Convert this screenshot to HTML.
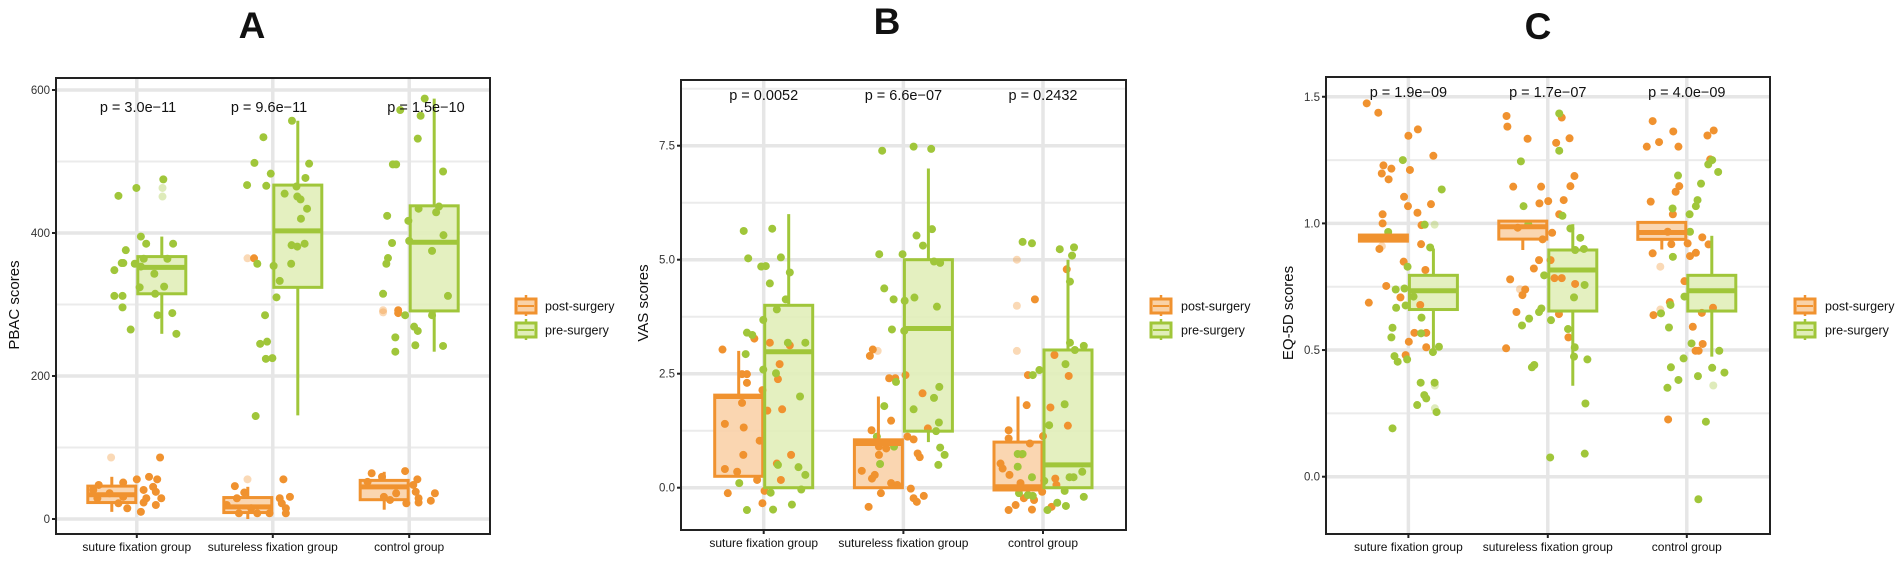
<!DOCTYPE html>
<html><head><meta charset="utf-8">
<style>
html,body{margin:0;padding:0;background:#fff;}
svg{display:block;font-family:"Liberation Sans",sans-serif;}
</style></head>
<body>
<svg id="fig" width="1901" height="562" viewBox="0 0 1901 562" xmlns="http://www.w3.org/2000/svg"></svg>
<script>
// ---------- shared ----------
const groupNames = ["suture fixation group","sutureless fixation group","control group"];
const seriesNames = ["post-surgery","pre-surgery"];

// ---------- Panel A (PBAC) ----------
const pValuesA = ["p = 3.0e\u221211","p = 9.6e\u221211","p = 1.5e\u221210"];
const ticksA = [0,200,400,600];
const tickLabelsA = ["0","200","400","600"];
const minorA = [100,300,500];
const postBoxA = [[10,23,34,46,59],[0,9,17,30,45],[13,27,45,54,66]];
const preBoxA = [[259,315,352,367,395],[145,324,403,467,557],[234,291,387,438,588]];
const postPtsA = [
 [[86,0.171],[55.5,0],[59,0.09],[55.5,0.15],[51,-0.1],[47.6,-0.28],[45,0.12],[40.6,0.05],[38,0.14],[29,0.18],[29,0.07],[23,0.05],[19.6,0.14],[10,0.03],[15,-0.07],[29,-0.29],[36,-0.2],[31,-0.1],[40.6,-0.32],[22,-0.135]],
 [[364.6,-0.138],[55.5,0.078],[46,-0.279],[37,-0.21],[29,-0.264],[19.6,-0.339],[29,0.051],[31,0.126],[22,0.066],[8,0.096],[8,-0.024],[8,-0.114],[8,-0.249],[15,-0.159],[15,0.096]],
 [[292,-0.081],[288,-0.081],[67,-0.03],[55.5,0.06],[64,-0.276],[59,-0.2],[52,-0.306],[47.6,0.03],[38,0.048],[36,0.189],[29,0.069],[25.6,0.159],[23,0.069],[22,-0.021],[26.6,-0.141],[31,-0.186],[36,-0.096]]
];
const prePtsA = [
 [[452,-0.135],[463,-0.003],[475,0.195],[395,0.03],[385,0.069],[385,0.267],[376,-0.081],[358,-0.111],[348,-0.165],[358,-0.099],[357,-0.015],[364,0.051],[353,0.03],[343,0.129],[364,0.225],[312,-0.165],[312,-0.105],[296,-0.105],[325,0.201],[315,0.135],[324,0.021],[265,-0.045],[285,0.153],[288,0.261],[259,0.291]],
 [[557,0.141],[534,-0.069],[498,-0.135],[497,0.267],[483,-0.015],[477,0.24],[467,-0.189],[466,-0.048],[465,0.174],[455,0.087],[451,0.18],[447,0.204],[434,0.252],[420,0.207],[383,0.138],[381,0.18],[385,0.234],[357,0.135],[357,-0.114],[354,0.006],[333,0.051],[310,0.027],[285,-0.057],[248,-0.042],[245,-0.093],[224,-0.051],[225,-0.003],[144,-0.126]],
 [[588,0.114],[572,-0.066],[564,0.084],[532,0.063],[496,-0.12],[496,-0.096],[486,0.249],[434,0.069],[429,0.198],[437,0.219],[424,-0.162],[417,-0.006],[397,0.252],[386,-0.126],[389,0],[375,0.168],[365,-0.156],[357,-0.168],[315,-0.192],[312,0.285],[285,-0.03],[285,0.168],[269,0.036],[263,0.063],[254,-0.102],[243,0.045],[242,0.249],[234,-0.102]]
];
const fadedA = [[0,0,86,-0.189],[0,1,463,0.189],[0,1,451,0.189],[1,0,364.6,-0.186],[1,0,55.5,-0.186],[2,0,292,-0.192],[2,0,289,-0.192]];

// ---------- Panel B (VAS) ----------
const pValuesB = ["p = 0.0052","p = 6.6e\u221207","p = 0.2432"];
const ticksB = [0,2.5,5,7.5];
const tickLabelsB = ["0.0","2.5","5.0","7.5"];
const minorB = [1.25,3.75,6.25,8.75];
const postBoxB = [[0.25,0.25,2.0,2.03,3.0],[0,0,0.97,1.05,2.0],[-0.05,-0.05,0.02,1.0,2.0]];
const preBoxB = [[0,0,2.98,4.0,6.0],[1.0,1.24,3.49,5.0,7.0],[0,0,0.5,3.02,5.0]];
const postPtsB = [
 [[3.03,-0.295],[3.27,-0.067],[2.49,-0.155],[2.49,-0.12],[2.3,-0.12],[2.14,-0.009],[1.86,-0.155],[1.4,-0.278],[1.32,-0.143],[1.03,-0.029],[0.72,-0.146],[0.41,-0.278],[0.35,-0.19],[0.17,-0.047],[-0.12,-0.257],[-0.07,0.006],[-0.34,-0.009],[3.18,0.044],[3.12,0.187],[2.71,0.114],[2.38,0.102],[1.69,0.026],[1.72,0.132],[0.72,0.196],[0.53,0.094],[0.17,0.123]],
 [[3.03,-0.219],[2.89,-0.24],[2.4,-0.102],[2.4,-0.058],[2.47,0.015],[2.07,0.137],[1.26,-0.228],[1.47,-0.088],[1.12,0.029],[1.06,0.073],[0.9,-0.175],[0.86,-0.123],[0.72,-0.175],[0.75,0.102],[0.67,0.117],[0.37,-0.298],[0.28,-0.205],[0.2,-0.225],[0.1,-0.088],[0.06,-0.044],[-0.12,-0.161],[-0.02,0.053],[-0.23,0.073],[-0.31,0.096],[-0.18,0.146],[-0.42,-0.249],[1.3,0.175]],
 [[4.79,0.17],[4.13,-0.058],[2.91,0.082],[2.45,0.184],[2.47,-0.108],[1.81,-0.117],[1.76,0.053],[1.36,0.178],[1.26,-0.246],[1.08,-0.246],[1.13,0],[0.97,-0.094],[0.73,-0.152],[0.53,-0.304],[0.42,-0.289],[0.28,-0.24],[0.1,-0.161],[-0.09,-0.006],[0.2,0.088],[0.06,0.096],[-0.23,-0.137],[-0.27,-0.064],[-0.38,-0.196],[-0.49,-0.246],[-0.48,-0.079],[-0.42,0.061]]
];
const prePtsB = [
 [[5.63,-0.143],[5.68,0.061],[5.03,-0.111],[5.05,0.123],[4.85,-0.018],[4.86,0.015],[4.72,0.187],[4.48,0.044],[4.13,0.158],[3.91,0.094],[3.68,-0.003],[3.4,-0.12],[3.35,-0.082],[3.18,0.173],[3.18,0.298],[2.93,-0.129],[2.59,-0.003],[2.51,0.088],[2.0,0.26],[0.5,0.102],[0.45,0.249],[0.28,0.298],[0.1,-0.175],[-0.11,0.05],[-0.04,0.269],[-0.37,0.202],[-0.48,0.067],[-0.49,-0.12]],
 [[7.39,-0.152],[7.48,0.073],[7.43,0.199],[5.53,0.094],[5.67,0.205],[5.31,0.14],[5.12,-0.173],[5.12,-0.006],[4.96,0.219],[4.93,0.263],[4.37,-0.137],[4.13,-0.07],[4.1,0.009],[4.17,0.079],[3.97,0.24],[3.47,-0.082],[3.44,0.006],[2.32,-0.053],[2.21,0.257],[1.97,0.219],[1.79,-0.137],[1.72,0.073],[1.43,0.254],[1.12,-0.19],[1.24,0.234],[0.88,0.263],[0.9,-0.067],[0.72,0.295],[0.52,-0.167],[0.5,0.25]],
 [[5.39,-0.146],[5.36,-0.079],[5.23,0.12],[5.27,0.222],[5.09,0.208],[4.52,0.193],[3.18,0.193],[3.11,0.292],[3.02,0.228],[2.71,0.161],[2.58,-0.026],[2.47,-0.073],[1.83,0.155],[1.37,0.044],[0.74,-0.181],[0.74,-0.146],[0.46,-0.181],[0.23,-0.079],[0.15,0.009],[0.23,0.19],[0.23,0.219],[0.35,0.281],[-0.12,-0.172],[-0.18,-0.073],[-0.07,0.155],[-0.2,0.292],[-0.33,0.102],[-0.4,0.164],[-0.49,0.032],[-0.16,-0.108]]
];
const fadedB = [[1,0,3.0,-0.184],[2,0,5.0,-0.187],[2,0,3.99,-0.187],[2,0,3.0,-0.187]];

// ---------- Panel C (EQ-5D) ----------
const pValuesC = ["p = 1.9e\u221209","p = 1.7e\u221207","p = 4.0e\u221209"];
const ticksC = [0,0.5,1,1.5];
const tickLabelsC = ["0.0","0.5","1.0","1.5"];
const minorC = [0.25,0.75,1.25];
const postBoxC = [[0.93,0.93,0.943,0.954,0.954],[0.895,0.938,0.987,1.009,1.009],[0.897,0.937,0.964,1.004,1.004]];
const preBoxC = [[0.493,0.66,0.734,0.795,0.901],[0.359,0.654,0.816,0.895,0.997],[0.474,0.654,0.734,0.795,0.951]];
const postPtsC = [
 [[1.474,-0.299],[1.437,-0.216],[1.371,0.068],[1.346,0],[1.267,0.179],[1.229,-0.179],[1.216,-0.122],[1.197,-0.191],[1.211,0.011],[1.174,-0.142],[1.105,-0.031],[1.068,-0.003],[1.076,0.162],[1.042,0.065],[1.036,-0.185],[1.0,-0.185],[0.993,0.094],[0.899,-0.208],[0.918,0.091],[0.849,-0.034],[0.816,0.122],[0.753,-0.159],[0.687,-0.284],[0.708,-0.057],[0.678,0.085],[0.568,0.043],[0.568,0.128],[0.533,0.003],[0.511,0.128],[0.48,-0.02]],
 [[1.424,-0.296],[1.382,-0.29],[1.334,-0.145],[1.418,0.1],[1.318,0.06],[1.336,0.156],[1.187,0.191],[1.145,-0.248],[1.145,-0.048],[1.147,0.162],[1.079,-0.06],[1.088,0.003],[1.092,0.114],[1.036,0.082],[0.983,-0.216],[0.963,0.031],[0.937,-0.037],[0.855,-0.063],[0.855,0.02],[0.822,-0.1],[0.779,-0.27],[0.784,0.048],[0.784,0.1],[0.761,0.196],[0.739,-0.162],[0.717,-0.182],[0.65,-0.225],[0.642,0.08],[0.55,0.148],[0.507,-0.299]],
 [[1.404,-0.245],[1.321,-0.199],[1.303,-0.287],[1.363,-0.097],[1.303,-0.06],[1.347,0.148],[1.367,0.193],[1.253,0.168],[1.147,-0.054],[1.125,-0.08],[1.086,-0.259],[1.036,-0.1],[0.967,-0.137],[0.945,0.111],[0.917,0.156],[0.918,-0.111],[0.921,0.006],[0.882,-0.245],[0.871,0.023],[0.884,0.065],[0.772,-0.017],[0.689,-0.122],[0.638,-0.239],[0.647,0.108],[0.667,0.188],[0.592,0.043],[0.524,0.114],[0.497,0.063],[0.497,0.085],[0.226,-0.134]]
];
const prePtsC = [
 [[1.25,-0.04],[1.134,0.239],[0.966,-0.145],[0.995,0.117],[0.829,-0.006],[0.739,-0.091],[0.743,-0.028],[0.711,0.037],[0.667,-0.088],[0.676,-0.02],[0.628,0.094],[0.588,-0.114],[0.55,-0.122],[0.566,0.091],[0.513,0.219],[0.492,0.176],[0.476,-0.1],[0.454,-0.077],[0.463,-0.009],[0.371,0.088],[0.371,0.188],[0.322,0.114],[0.309,0.128],[0.283,0.063],[0.255,0.202],[0.191,-0.114],[0.905,0.156]],
 [[1.434,0.082],[1.287,0.082],[1.245,-0.193],[1.068,-0.174],[0.997,-0.14],[1.03,0.105],[0.98,0.162],[0.943,0.233],[0.895,0.196],[0.899,0.259],[0.795,-0.026],[0.708,0.188],[0.757,0.264],[0.664,-0.046],[0.65,-0.063],[0.624,-0.134],[0.597,-0.185],[0.618,0.023],[0.583,0.145],[0.511,0.193],[0.474,0.188],[0.463,0.284],[0.441,-0.097],[0.432,-0.114],[0.289,0.27],[0.076,0.017],[0.091,0.265]],
 [[1.189,-0.063],[1.157,0.102],[1.203,0.225],[1.25,0.182],[1.233,0.154],[1.092,0.077],[1.068,0.065],[1.059,-0.102],[1.036,0.02],[0.967,0.023],[0.868,-0.1],[0.711,-0.017],[0.678,-0.117],[0.645,-0.185],[0.589,-0.128],[0.526,0.034],[0.497,0.233],[0.467,-0.023],[0.432,-0.114],[0.43,0.182],[0.411,0.27],[0.397,0.08],[0.382,-0.06],[0.351,-0.139],[0.217,0.137],[-0.089,0.083]]
];
const fadedC = [[0,0,0.91,-0.19],[0,1,0.995,0.188],[0,1,0.36,0.19],[0,1,0.27,0.19],[1,0,0.74,-0.2],[2,0,0.829,-0.19],[2,0,0.66,-0.19],[2,1,0.36,0.19]];

// ---------- drawing ----------
const NS = "http://www.w3.org/2000/svg";
const svg = document.getElementById("fig");
const ORANGE = "#F0922F", GREEN = "#A0C63A";
const FILLS = ["#F9D2A8", "#E1EEB9"];
const COLORS = [ORANGE, GREEN];
function mk(tag, attrs, parent){
  const e = document.createElementNS(NS, tag);
  for (const k in attrs) e.setAttribute(k, attrs[k]);
  (parent || svg).appendChild(e);
  return e;
}

const panels = [
 {key:"a", title:"A", titleX:252, titleY:38, left:56, right:490, top:78, bottom:534, y0:519, ppu:0.715, cats:[136.8,272.8,409.2], pvx:[138,269,426], pvy:112,
  yTitle:"PBAC  scores", yTitleX:19, yTitleY:305, legX:515, legTextX:545,
  ticks:ticksA, tickLabels:tickLabelsA, minor:minorA, pvals:pValuesA, postBox:postBoxA, preBox:preBoxA, postPts:postPtsA, prePts:prePtsA, faded:fadedA},
 {key:"b", title:"B", titleX:887, titleY:34, left:681, right:1126, top:80, bottom:530, y0:487.7, ppu:45.6, cats:[763.7,903.4,1043], pvx:[763.7,903.4,1043], pvy:100,
  yTitle:"VAS  scores", yTitleX:648, yTitleY:303, legX:1150, legTextX:1181,
  ticks:ticksB, tickLabels:tickLabelsB, minor:minorB, pvals:pValuesB, postBox:postBoxB, preBox:preBoxB, postPts:postPtsB, prePts:prePtsB, faded:fadedB},
 {key:"c", title:"C", titleX:1538, titleY:39, left:1326, right:1770, top:77, bottom:534, y0:476.7, ppu:253.3, cats:[1408.4,1547.8,1686.8], pvx:[1408.4,1547.8,1686.8], pvy:97,
  yTitle:"EQ-5D scores", yTitleX:1293, yTitleY:313, legX:1794, legTextX:1825,
  ticks:ticksC, tickLabels:tickLabelsC, minor:minorC, pvals:pValuesC, postBox:postBoxC, preBox:preBoxC, postPts:postPtsC, prePts:prePtsC, faded:fadedC}
];

panels.forEach(P => {
  const g = mk("g", {});
  
  
  const yS = v => P.y0 - v * P.ppu;
  const spacing = P.cats[1] - P.cats[0];
  const xJ = (ci, j) => P.cats[ci] + j * spacing;

  const t = mk("text", {x:P.titleX, y:P.titleY, "text-anchor":"middle", "font-size":37, "font-weight":"bold", fill:"#111"}, g);
  t.textContent = P.title;
  
  

  // clip
  const cp = mk("clipPath", {id:"clip-" + P.key}, g);
  mk("rect", {x:P.left, y:P.top, width:P.right-P.left, height:P.bottom-P.top}, cp);
  const plot = mk("g", {"clip-path":"url(#clip-" + P.key + ")"}, g);
  
  

  P.minor.forEach(v => {
    const l = mk("line", {x1:P.left, x2:P.right, y1:yS(v), y2:yS(v), stroke:"#EBEBEB", "stroke-width":2}, plot);
    
    
  });
  P.ticks.forEach(v => {
    const l = mk("line", {x1:P.left, x2:P.right, y1:yS(v), y2:yS(v), stroke:"#E6E6E6", "stroke-width":3.5}, plot);
    
    
  });
  P.cats.forEach(cx => {
    const l = mk("line", {x1:cx, x2:cx, y1:P.top, y2:P.bottom, stroke:"#E6E6E6", "stroke-width":3.5}, plot);
    
    
  });

  const boxes = [P.postBox, P.preBox];
  const pts = [P.postPts, P.prePts];
  const bw = 48;
  // box fills
  for (let ci = 0; ci < 3; ci++) for (let s = 0; s < 2; s++) {
    const b = boxes[s][ci];
    const x0 = s === 0 ? P.cats[ci] - bw - 1 : P.cats[ci] + 1;
    const r = mk("rect", {x:x0, y:yS(b[3]), width:bw, height:Math.max(1, yS(b[1]) - yS(b[3])), fill:FILLS[s], "fill-opacity":0.9}, plot);
    
    
  }
  // faded outliers
  P.faded.forEach(f => {
    const c = mk("circle", {cx:xJ(f[0], f[3]), cy:yS(f[2]), r:4, fill:COLORS[f[1]], "fill-opacity":0.35}, plot);
    
    
  });
  // points
  for (let s = 0; s < 2; s++) for (let ci = 0; ci < 3; ci++) {
    pts[s][ci].forEach(p => {
      const c = mk("circle", {cx:xJ(ci, p[1]), cy:yS(p[0]), r:4, fill:COLORS[s]}, plot);
      
      
    });
  }
  // box outlines, whiskers, medians
  for (let ci = 0; ci < 3; ci++) for (let s = 0; s < 2; s++) {
    const b = boxes[s][ci];
    const x0 = s === 0 ? P.cats[ci] - bw - 1 : P.cats[ci] + 1;
    const xc = x0 + bw / 2;
    const bg = mk("g", {stroke:COLORS[s], fill:"none"}, plot);
    
    
    mk("line", {x1:xc, x2:xc, y1:yS(b[3]), y2:yS(b[4]), "stroke-width":3}, bg);
    mk("line", {x1:xc, x2:xc, y1:yS(b[1]), y2:yS(b[0]), "stroke-width":3}, bg);
    mk("rect", {x:x0, y:yS(b[3]), width:bw, height:Math.max(1, yS(b[1]) - yS(b[3])), "stroke-width":3}, bg);
    mk("line", {x1:x0, x2:x0 + bw, y1:yS(b[2]), y2:yS(b[2]), "stroke-width":5}, bg);
  }

  // border
  const br = mk("rect", {x:P.left, y:P.top, width:P.right-P.left, height:P.bottom-P.top, fill:"none", stroke:"#222", "stroke-width":2}, g);
  
  

  // y ticks
  P.ticks.forEach((v, i) => {
    const tk = mk("line", {x1:P.left - 4, x2:P.left, y1:yS(v), y2:yS(v), stroke:"#222", "stroke-width":2}, g);
    
    
    const tl = mk("text", {x:P.left - 6, y:yS(v) + 4, "text-anchor":"end", "font-size":11.5, fill:"#333"}, g);
    tl.textContent = P.tickLabels[i];
    
    
  });
  // x ticks + labels
  P.cats.forEach((cx, i) => {
    const tk = mk("line", {x1:cx, x2:cx, y1:P.bottom, y2:P.bottom + 4, stroke:"#222", "stroke-width":2}, g);
    
    
    const tl = mk("text", {x:cx, y:P.bottom + 17, "text-anchor":"middle", "font-size":12, fill:"#111"}, g);
    tl.textContent = groupNames[i];
    
    
    const pv = mk("text", {x:P.pvx[i], y:P.pvy, "text-anchor":"middle", "font-size":14.5, fill:"#111"}, g);
    pv.textContent = P.pvals[i];
    
    
  });
  // y title
  const yt = mk("text", {x:P.yTitleX, y:P.yTitleY, "text-anchor":"middle", "font-size":15, fill:"#111", transform:"rotate(-90 " + P.yTitleX + " " + P.yTitleY + ")"}, g);
  yt.textContent = P.yTitle;
  
  

  // legend
  const lg = mk("g", {}, g);
  
  
  [297, 321].forEach((ky, s) => {
    const e = mk("g", {}, lg);
    
    
    mk("line", {x1:P.legX + 11, x2:P.legX + 11, y1:ky - 2, y2:ky + 19, stroke:COLORS[s], "stroke-width":2.5}, e);
    mk("rect", {x:P.legX + 1, y:ky + 2, width:20, height:14, fill:FILLS[s], stroke:COLORS[s], "stroke-width":3}, e);
    mk("line", {x1:P.legX + 3, x2:P.legX + 19, y1:ky + 9, y2:ky + 9, stroke:COLORS[s], "stroke-width":2}, e);
    const tx = mk("text", {x:P.legTextX, y:ky + 13.5, "font-size":12.5, fill:"#111"}, e);
    tx.textContent = seriesNames[s];
  });
});
</script>
</body></html>
